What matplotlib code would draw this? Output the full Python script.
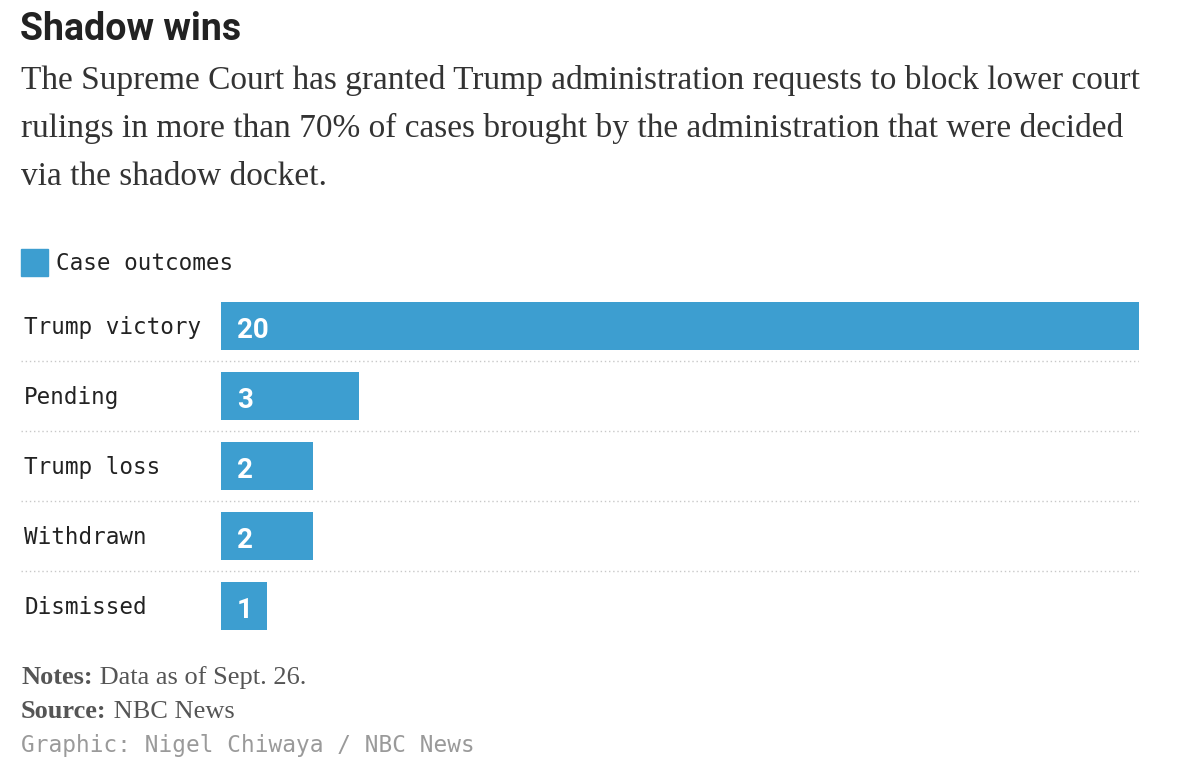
import matplotlib.pyplot as plt
from matplotlib.patches import Rectangle

categories = ['Trump victory', 'Pending', 'Trump loss', 'Withdrawn', 'Dismissed']
counts = [20, 3, 2, 2, 1]
legend_label = 'Case outcomes'
title = 'Shadow wins'
subtitle_lines = [
    'The Supreme Court has granted Trump administration requests to block lower court',
    'rulings in more than 70% of cases brought by the administration that were decided',
    'via the shadow docket.',
]
note = 'Data as of Sept. 26.'
source = 'NBC News'
credit = 'Graphic: Nigel Chiwaya / NBC News'

W, H = 1179, 759
BAR = '#3d9ed0'
MONO = 'DejaVu Sans Mono'
SERIF = 'Liberation Serif'


def fx(px):
    return px / W


def fy(py):
    return 1 - py / H


fig = plt.figure(figsize=(W / 100, H / 100), dpi=100)

# Title + subtitle
fig.text(fx(20), fy(40), title, family='Roboto', weight='bold', size=27,
         color='#222222', va='baseline')
for n, line in enumerate(subtitle_lines):
    fig.text(fx(21), fy(89 + 48 * n), line, family=SERIF, size=24,
             color='#333333', va='baseline')

# Legend
fig.patches.append(Rectangle((fx(21), fy(276)), 27 / W, 27 / H,
                             transform=fig.transFigure, color=BAR))
fig.text(fx(56), fy(270), legend_label, family=MONO, size=16.3,
         color='#222222', va='baseline')

# Bars
ax = fig.add_axes([fx(21), fy(641), (1139 - 21) / W, 350 / H])
xmax = max(counts)
px_unit = 918 / xmax          # pixels per count
xmin = -200 / px_unit
ax.set_xlim(xmin, xmax)
ax.set_ylim(len(categories) - 0.5, -0.5)
ax.axis('off')

ax.barh(range(len(categories)), counts, height=48 / 70, color=BAR)
for i in range(len(categories) - 1):
    ax.hlines(i + 0.5, xmin, xmax, colors='#c8c8c8', linestyles=(0, (1, 2)), lw=1)

for i, (cat, v) in enumerate(zip(categories, counts)):
    ax.text(xmin + 3 / px_unit, i + 8 / 70, cat, family=MONO, size=16.3,
            color='#222222', va='baseline')
    ax.text(16 / px_unit, i + 12 / 70, str(v), family='Roboto', weight='bold',
            size=20, color='white', va='baseline')

# Footer
t1 = fig.text(fx(21), fy(684), 'Notes:', family=SERIF, weight='bold', size=19,
              color='#555555', va='baseline')
t2 = fig.text(fx(21), fy(718), 'Source:', family=SERIF, weight='bold', size=19,
              color='#555555', va='baseline')
fig.text(fx(21), fy(752), credit, family=MONO, size=16.4, color='#9a9a9a',
         va='baseline')

# regular-weight text after the bold lead-ins
fig.canvas.draw()
r = fig.canvas.get_renderer()
for t, s in ((t1, note), (t2, source)):
    bb = t.get_window_extent(r)
    fig.text(bb.x1 / W, t.get_position()[1], ' ' + s, family=SERIF, size=19,
             color='#555555', va='baseline')

fig.savefig('out.png', dpi=100)
